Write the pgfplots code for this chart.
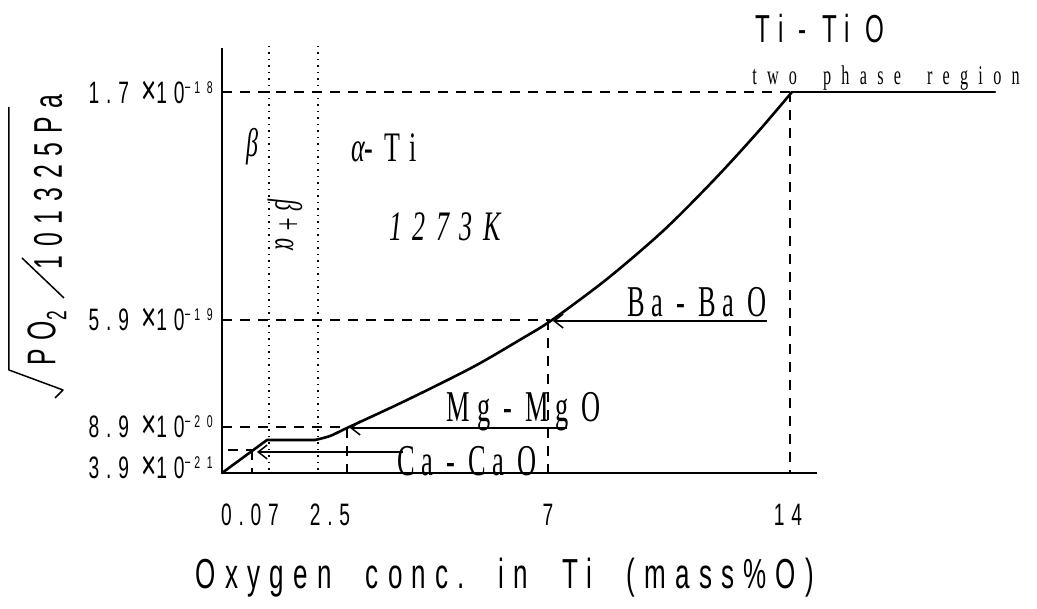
\documentclass[border=0pt]{standalone}
\usepackage{fontspec}
\usepackage{pgfplots}
\pgfplotsset{compat=1.18}
\usetikzlibrary{arrows.meta}

% Condensed, letter-spaced faces for labels
\newfontfamily\narrowsans[FakeStretch=0.62,LetterSpace=22]{Liberation Sans}
\newfontfamily\narrowserif[FakeStretch=0.6,LetterSpace=15]{Liberation Serif}
\newfontfamily\spacedserif[FakeStretch=0.62,LetterSpace=25]{Liberation Serif}
\newfontfamily\wideserif[FakeStretch=0.6,LetterSpace=38]{Liberation Serif}

\newcommand{\ylab}[2]{{\fontsize{31}{31}\selectfont #1 \raisebox{-1pt}{\scalebox{1.35}{×}}10}\raisebox{10pt}{\fontsize{17}{17}\selectfont #2}}
\newcommand{\gap}{\hspace{34pt}}

\begin{document}
\begin{tikzpicture}
\begin{axis}[
  scale only axis,
  width=595pt, height=425pt,
  xmin=222, xmax=817, ymin=136, ymax=561,
  axis x line=bottom, axis y line=left,
  axis line style={-, line width=2pt},
  clip=false,
  major tick length=0pt,
  % schematic (not to scale) oxygen-concentration axis
  xtick={250,330,548,788},
  xticklabels={0.07,2.5,7,14},
  xticklabel style={font=\narrowsans\fontsize{31}{31}\selectfont, anchor=center, inner sep=0pt, yshift=-42pt},
  ytick={516,289,182,141},
  yticklabels={\ylab{1.7}{−1 8},\ylab{5.9}{−1 9},\ylab{8.9}{−2 0},\ylab{3.9}{−2 1}},
  yticklabel style={font=\narrowsans, anchor=base east, inner sep=0pt, xshift=-9pt, yshift=-11pt},
]
% page frame
\path (axis cs:0,0) rectangle (axis cs:1037,609);

% phase boundaries (dotted)
\addplot[black, line width=1.5pt, dash pattern=on 1.5pt off 5pt] coordinates {(269,563) (269,136)};
\addplot[black, line width=1.5pt, dash pattern=on 1.5pt off 5pt] coordinates {(318,563) (318,136)};

% equilibrium guide lines (dashed)
\pgfplotsset{guide/.style={black, line width=2pt, dash pattern=on 10pt off 8pt}}
\addplot[guide] coordinates {(222,517) (792,517)};
\addplot[guide] coordinates {(790,517) (790,136)};
\addplot[guide] coordinates {(222,289) (550,289)};
\addplot[guide] coordinates {(548,289) (548,136)};
\addplot[guide] coordinates {(222,182) (347,182)};
\addplot[guide] coordinates {(347,181) (347,136)};
\addplot[guide] coordinates {(228,159) (252,159)};
\addplot[guide] coordinates {(252,159) (252,136)};

% equilibrium curve
\pgfplotsset{curve/.style={black, line width=2.6pt, line join=round, line cap=round}}
\addplot[curve] coordinates {(222,136) (267,169) (315,169)};
\addplot[curve, smooth, tension=0.5] coordinates {
  (315,169) (330,173) (347,181) (407,209) (473,242) (523,271)
  (552,289) (607,330) (663,378) (713,428) (757,476) (792,517)};
\addplot[curve] coordinates {(792,517) (995,517)};

% metal / oxide equilibria
\pgfplotsset{pointer/.style={black, line width=1.5pt, -{Straight Barb[length=9pt,width=14pt,line width=1.5pt]}}}
\addplot[pointer] coordinates {(767,288) (553,288)};
\addplot[pointer] coordinates {(567,181) (350,181)};
\addplot[pointer] coordinates {(403,157) (257,157)};

\node[font=\narrowserif\fontsize{44}{44}\selectfont] at (axis cs:697,307) {Ba - Ba O};
\node[font=\narrowserif\fontsize{44}{44}\selectfont] at (axis cs:524,197) {Mg - Mg O};
\node[font=\narrowserif\fontsize{44}{44}\selectfont] at (axis cs:467,148) {Ca - Ca O};
\node[font=\narrowsans\fontsize{39}{39}\selectfont] at (axis cs:820,580) {Ti - Ti O};
\node[font=\wideserif\fontsize{27}{27}\selectfont] at (axis cs:886,531) {two\hspace{26pt}phase\hspace{26pt}region};

% phase fields
\node[font=\narrowserif\itshape\fontsize{40}{40}\selectfont] at (axis cs:252,462) {β};
\node[font=\spacedserif\fontsize{42}{42}\selectfont] at (axis cs:384,461) {{\itshape α}-Ti};
\node[font=\spacedserif\itshape\fontsize{42}{42}\selectfont] at (axis cs:445,382) {1273K};
\node[font=\narrowserif\itshape\fontsize{38}{38}\selectfont, rotate=-90] at (axis cs:285,384) {β+α};

% axis titles
\node[font=\narrowsans\fontsize{42}{42}\selectfont] at (axis cs:505,31) {Oxygen\gap conc.\gap in\gap Ti\gap (mass\%O)};
\node[font=\narrowsans\fontsize{40}{40}\selectfont, rotate=90] at (axis cs:48,427) {101325Pa};
\node[font=\narrowsans\fontsize{40}{40}\selectfont, rotate=90] at (axis cs:47,271) {PO\textsubscript{2}};
\draw[line width=1.5pt] (axis cs:22,351) -- (axis cs:64,311);
\draw[line width=1.5pt, line join=round] (axis cs:9,502) -- (axis cs:9,239) -- (axis cs:63,219) -- (axis cs:55,211);
\end{axis}
\end{tikzpicture}
\end{document}
